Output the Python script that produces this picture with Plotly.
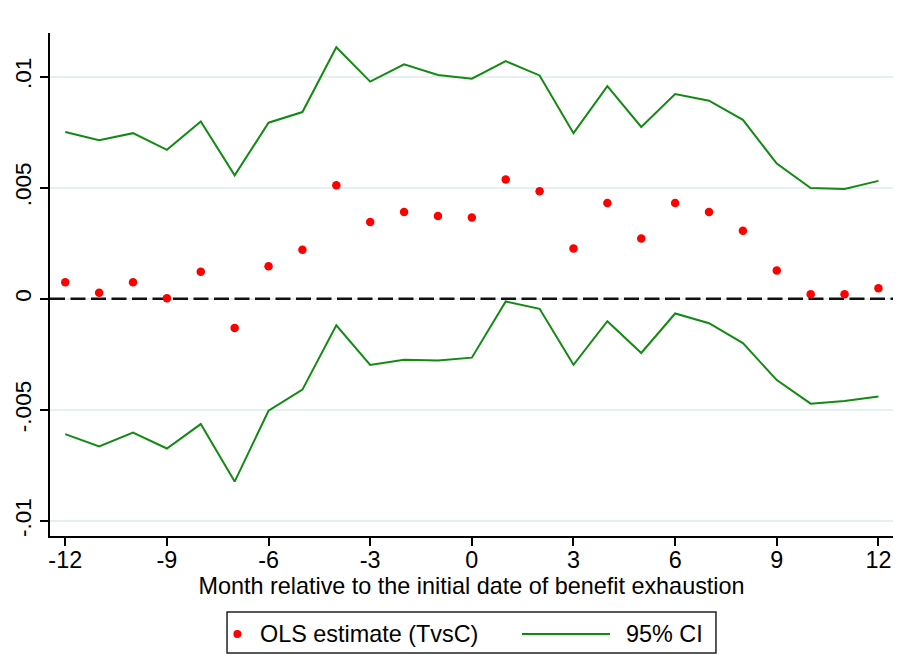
import plotly.graph_objects as go

months = list(range(-12, 13))
ols_est = [0.00075, 0.00027, 0.00075, 0.00003, 0.00122, -0.00131, 0.00147, 0.00221,
           0.00511, 0.00346, 0.00391, 0.00373, 0.00366, 0.00537, 0.00484, 0.00227,
           0.00431, 0.00272, 0.00431, 0.00391, 0.00307, 0.00128, 0.00021, 0.00021, 0.00048]
ci_upper = [0.00751, 0.00714, 0.00746, 0.00671, 0.00799, 0.00556, 0.00793, 0.00841,
            0.01133, 0.00978, 0.01056, 0.01008, 0.00991, 0.01070, 0.01006, 0.00746,
            0.00958, 0.00774, 0.00922, 0.00892, 0.00806, 0.00609, 0.00499, 0.00495, 0.00531]
ci_lower = [-0.00609, -0.00665, -0.00602, -0.00674, -0.00564, -0.00823, -0.00504, -0.00409,
            -0.00119, -0.00298, -0.00274, -0.00278, -0.00265, -0.00012, -0.00045, -0.00297,
            -0.00101, -0.00244, -0.00066, -0.00110, -0.00199, -0.00366, -0.00472, -0.00460, -0.00440]
x_ticks = [-12, -9, -6, -3, 0, 3, 6, 9, 12]
x_ticktext = ["-12", "-9", "-6", "-3", "0", "3", "6", "9", "12"]
y_ticks = [-0.01, -0.005, 0, 0.005, 0.01]
y_ticktext = ["-.01", "-.005", "0", ".005", ".01"]
legend_labels = ["OLS estimate (TvsC)", "95% CI"]
x_range = [-12.45, 12.43]
y_range = [-0.01068, 0.01197]

RED = "#ff0000"
GREEN = "#138a13"
FONT = "Liberation Sans, Arial, Helvetica, sans-serif"

fig = go.Figure()
# zero reference line (drawn first so the markers sit on top)
fig.add_trace(go.Scatter(x=x_range, y=[0, 0], mode="lines", hoverinfo="skip", showlegend=False,
                         line=dict(color="#111111", width=2.5, dash="15px,5.5px"), cliponaxis=False))
fig.add_trace(go.Scatter(x=months, y=ci_upper, mode="lines", name=legend_labels[1],
                         line=dict(color=GREEN, width=2), showlegend=False))
fig.add_trace(go.Scatter(x=months, y=ci_lower, mode="lines", name=legend_labels[1],
                         line=dict(color=GREEN, width=2), showlegend=False))
fig.add_trace(go.Scatter(x=months, y=ols_est, mode="markers", name=legend_labels[0],
                         marker=dict(color=RED, size=8.5), showlegend=False))

# custom legend box (paper coordinates)
fig.add_shape(type="rect", xref="paper", yref="paper", x0=0.2100, x1=0.7900, y0=-0.2326, y1=-0.1511,
              line=dict(color="#222222", width=1.5), fillcolor="white")
fig.add_shape(type="circle", xref="paper", yref="paper", xsizemode="pixel", ysizemode="pixel",
              xanchor=0.2223, yanchor=-0.1948, x0=-4, x1=4, y0=-4, y1=4,
              line=dict(color=RED, width=0), fillcolor=RED)
fig.add_shape(type="line", xref="paper", yref="paper", x0=0.5599, x1=0.6643, y0=-0.1948, y1=-0.1948,
              line=dict(color=GREEN, width=2))
fig.add_annotation(xref="paper", yref="paper", x=0.2467, y=-0.1958, xanchor="left", yanchor="middle",
                   text=legend_labels[0], showarrow=False, font=dict(size=23.4))
fig.add_annotation(xref="paper", yref="paper", x=0.6809, y=-0.1958, xanchor="left", yanchor="middle",
                   text=legend_labels[1], showarrow=False, font=dict(size=23.4))

fig.update_layout(
    width=906, height=647,
    margin=dict(l=42, r=21, t=25, b=119),
    paper_bgcolor="white", plot_bgcolor="white",
    font=dict(family=FONT, size=23.4, color="black"),
    showlegend=False,
    xaxis=dict(range=x_range, tickmode="array", tickvals=x_ticks, ticktext=x_ticktext,
               showgrid=False, zeroline=False, showline=True, linecolor="black", linewidth=1.5,
               ticks="outside", ticklen=8, tickwidth=1.5, tickcolor="black",
               tickfont=dict(size=23.4), automargin=False, ticklabelstandoff=-6,
               title=dict(text="Month relative to the initial date of benefit exhaustion",
                          font=dict(size=23.4), standoff=2)),
    yaxis=dict(range=y_range, tickmode="array", tickvals=y_ticks, ticktext=y_ticktext,
               tickangle=-90, showgrid=True, gridcolor="#e6eff1", gridwidth=1.5,
               zeroline=False, showline=True, linecolor="black", linewidth=1.5,
               ticks="outside", ticklen=8, tickwidth=1.5, tickcolor="black",
               tickfont=dict(size=22.5), ticklabelstandoff=0, automargin=False),
)

fig.write_html("out.html")
